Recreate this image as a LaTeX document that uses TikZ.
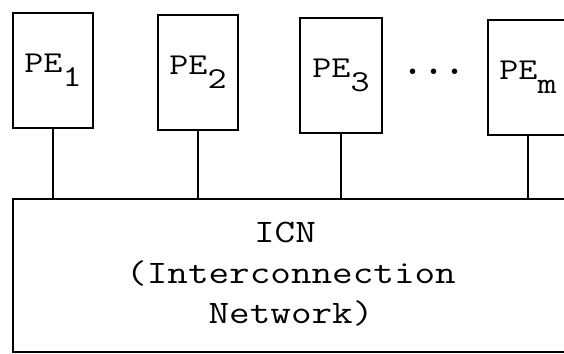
\documentclass[tikz,border=0pt]{standalone}
\usepackage{graphicx}
\begin{document}
\begin{tikzpicture}[x=1pt,y=-1pt,
  pebox/.style={draw, line width=1.3pt, rectangle, inner sep=0pt,
    minimum width=80pt, minimum height=115pt,
    font=\ttfamily\fontsize{37}{40}\selectfont},
  netbox/.style={draw, line width=1.3pt, rectangle, inner sep=0pt,
    minimum width=607pt, minimum height=153pt},
  lbl/.style={anchor=base, inner sep=0pt, font=\ttfamily\fontsize{40}{44}\selectfont},
  wire/.style={line width=1.2pt}]
\useasboundingbox (0,0) rectangle (564,353);
\newcommand{\sqz}[1]{\scalebox{1}[0.82]{#1}}
\newcommand{\pelabel}[1]{\sqz{PE}\raisebox{-14pt}{\sqz{#1}}}
\node[pebox] (PE1) at (53,70.5) {\pelabel{1}};
\node[pebox] (PE2) at (198,72.5) {\pelabel{2}};
\node[pebox, minimum width=82pt] (PE3) at (341,75.5) {\pelabel{3}};
\node[pebox] (PEm) at (528,77.5) {\pelabel{m}};
\node[inner sep=0pt, font=\ttfamily\bfseries\fontsize{40}{40}\selectfont] (dots) at (434,72) {...};
\node[netbox] (ICN) at (316.5,275.5) {};
\node[lbl] (t1) at (285,242) {\sqz{ICN}};
\node[lbl] (t2) at (291,283) {\sqz{(Interconnection}};
\node[lbl] (t3) at (291,323) {\sqz{Network)}};
\foreach \p in {PE1,PE2,PE3,PEm}
  \draw[wire] (\p.south) -- (\p.south |- ICN.north);
\end{tikzpicture}
\end{document}
